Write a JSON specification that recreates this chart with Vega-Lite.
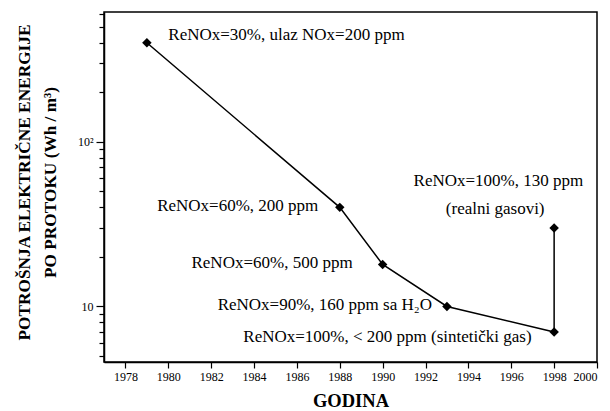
{
  "$schema": "https://vega.github.io/schema/vega-lite/v6.json",
  "width": 493,
  "height": 350,
  "autosize": {"type": "none"},
  "padding": {"left": 104, "top": 12, "right": 13, "bottom": 49},
  "background": "white",
  "config": {
    "view": {"stroke": "black", "strokeWidth": 1.5},
    "font": "Times New Roman",
    "axis": {"domainColor": "black", "domainWidth": 1.5, "tickColor": "black", "tickWidth": 1.2, "labelColor": "black", "titleColor": "black", "grid": false, "labelFont": "Times New Roman", "titleFont": "Times New Roman"}
  },
  "datasets": {
    "pts": [
      {"year": 1979, "val": 400, "o": 1},
      {"year": 1988, "val": 40, "o": 2},
      {"year": 1990, "val": 18, "o": 3},
      {"year": 1993, "val": 10, "o": 4},
      {"year": 1998, "val": 7, "o": 5},
      {"year": 1998, "val": 30, "o": 6}
    ],
    "lblLeft": [
      {"x": 1980, "y": 445, "t": "ReNOx=30%, ulaz NOx=200 ppm"}
    ],
    "lblRight": [
      {"x": 1987.0, "y": 41, "t": "ReNOx=60%, 200 ppm"},
      {"x": 1988.6, "y": 18.3, "t": "ReNOx=60%, 500 ppm"},
      {"x": 1992.3, "y": 10.2, "t": "ReNOx=90%, 160 ppm sa H₂O"},
      {"x": 1996.95, "y": 6.5, "t": "ReNOx=100%, < 200 ppm (sintetički gas)"}
    ],
    "lblCenter": [
      {"x": 1995.4, "y": 58, "t": "ReNOx=100%, 130 ppm"},
      {"x": 1995.25, "y": 39, "t": "(realni gasovi)"}
    ]
  },
  "layer": [
    {
      "data": {"name": "pts"},
      "mark": {"type": "line", "color": "black", "strokeWidth": 1.5},
      "encoding": {
        "x": {
          "field": "year", "type": "quantitative",
          "scale": {"domain": [1977, 2000], "nice": false, "zero": false},
          "axis": {
            "values": [1978,1979,1980,1981,1982,1983,1984,1985,1986,1987,1988,1989,1990,1991,1992,1993,1994,1995,1996,1997,1998,1999,2000],
            "format": "d",
            "labelExpr": "datum.value % 2 == 0 ? datum.label : ''",
            "tickSize": {"condition": {"test": "datum.value % 2 == 0", "value": 6}, "value": 4},
            "labelFontSize": 12,
            "labelPadding": 3,
            "title": "GODINA",
            "titleFontSize": 18.5,
            "titleFontWeight": "bold",
            "titleY": 38,
            "titleBaseline": "middle"
          }
        },
        "y": {
          "field": "val", "type": "quantitative",
          "scale": {"type": "log", "domain": [4.6, 615], "nice": false},
          "axis": {
            "values": [5,6,7,8,9,10,20,30,40,50,60,70,80,90,100,200,300,400,500,600],
            "labelExpr": "datum.value == 100 ? '10²' : (datum.value == 10 ? '10' : '')",
            "tickSize": {"condition": {"test": "datum.value == 10 || datum.value == 100", "value": 8}, "value": 5},
            "labelFontSize": 12,
            "labelPadding": 3,
            "title": ["POTROŠNJA ELEKTRIČNE ENERGIJE", "PO PROTOKU  (Wh / m³)"],
            "titleFontSize": 17.3,
            "titleFontWeight": "bold",
            "titleLineHeight": 26,
            "titleX": -80,
            "titleY": 170,
            "titleBaseline": "middle"
          }
        },
        "order": {"field": "o", "type": "quantitative"}
      }
    },
    {
      "data": {"name": "pts"},
      "mark": {"type": "point", "shape": "diamond", "filled": true, "color": "black", "size": 90, "opacity": 1},
      "encoding": {
        "x": {"field": "year", "type": "quantitative"},
        "y": {"field": "val", "type": "quantitative"}
      }
    },
    {
      "data": {"name": "lblLeft"},
      "mark": {"type": "text", "align": "left", "baseline": "middle", "fontSize": 17, "color": "black", "font": "Times New Roman"},
      "encoding": {
        "x": {"field": "x", "type": "quantitative"},
        "y": {"field": "y", "type": "quantitative"},
        "text": {"field": "t"}
      }
    },
    {
      "data": {"name": "lblRight"},
      "mark": {"type": "text", "align": "right", "baseline": "middle", "fontSize": 17, "color": "black", "font": "Times New Roman"},
      "encoding": {
        "x": {"field": "x", "type": "quantitative"},
        "y": {"field": "y", "type": "quantitative"},
        "text": {"field": "t"}
      }
    },
    {
      "data": {"name": "lblCenter"},
      "mark": {"type": "text", "align": "center", "baseline": "middle", "fontSize": 17, "color": "black", "font": "Times New Roman"},
      "encoding": {
        "x": {"field": "x", "type": "quantitative"},
        "y": {"field": "y", "type": "quantitative"},
        "text": {"field": "t"}
      }
    }
  ]
}
